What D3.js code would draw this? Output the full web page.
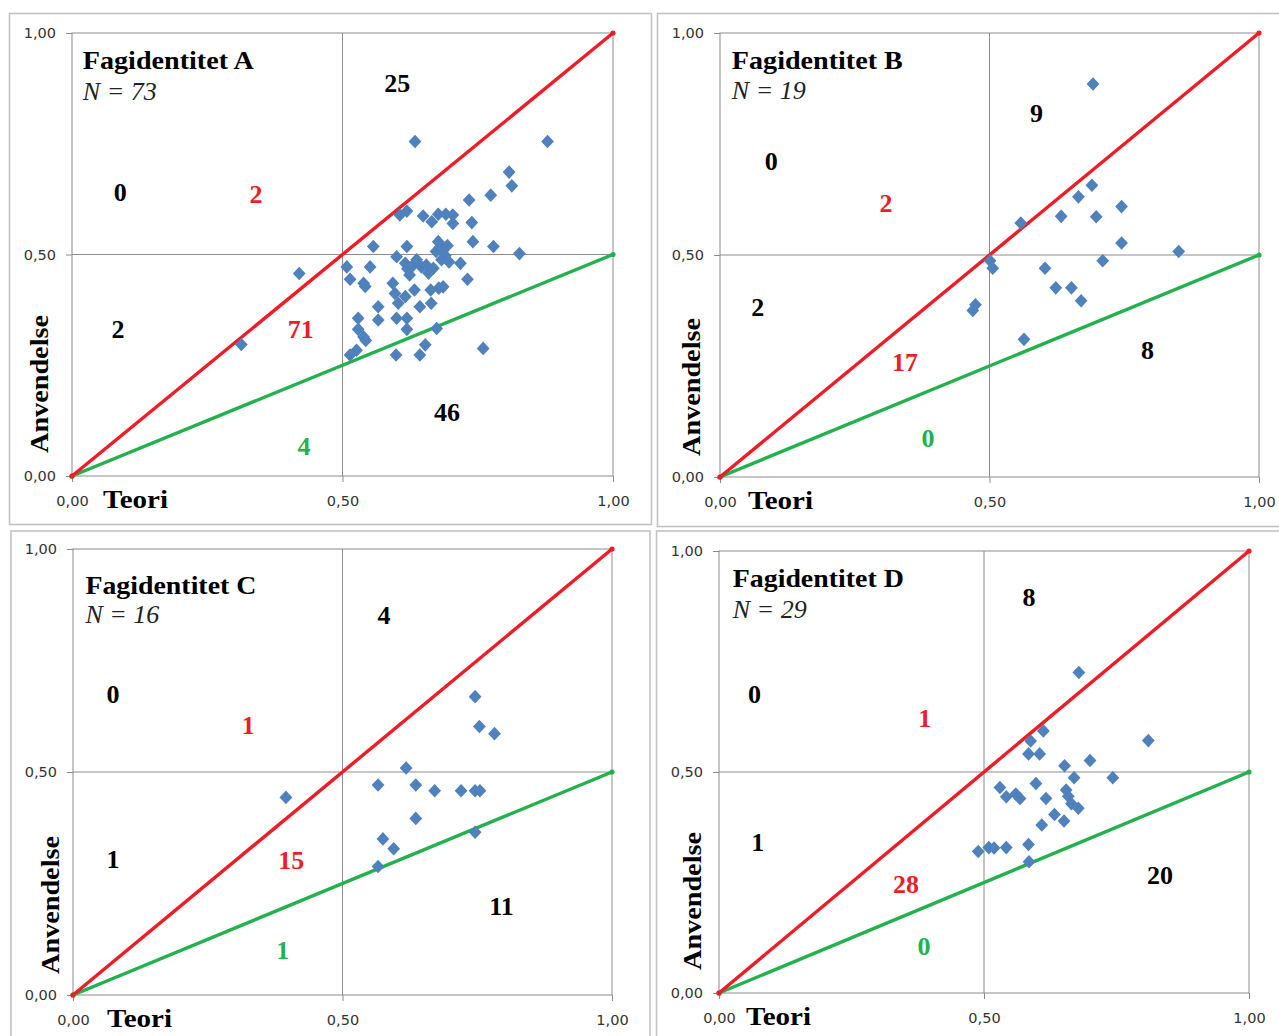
<!DOCTYPE html>
<html>
<head>
<meta charset="utf-8">
<script src="https://cdn.jsdelivr.net/npm/d3@7"></script>
<style>
  html, body { margin: 0; padding: 0; background: #fff; }
  svg { display: block; }
</style>
</head>
<body>
<svg id="chart" width="1279" height="1036"></svg>
<script>
// ---------------- DATA ----------------
const panelIds = ["A", "B", "C", "D"];
const panelTitles = ["Fagidentitet A", "Fagidentitet B", "Fagidentitet C", "Fagidentitet D"];
const panelN = ["N = 73", "N = 19", "N = 16", "N = 29"];
const xAxisTitle = "Teori";
const yAxisTitle = "Anvendelse";
const tickValues = [0, 0.5, 1];
const tickLabels = ["0,00", "0,50", "1,00"];

// Reference lines (Anvendelse = Teori, Anvendelse = Teori / 2)
const redLineX = [0, 1];
const redLineY = [0, 1];
const greenLineX = [0, 1];
const greenLineY = [0, 0.5];

// Scatter points: Teori (x) and Anvendelse (y)
const teoriA = [0.313,0.420,0.634,0.879,0.808,0.813,0.774,0.734,0.606,0.619,0.649,0.665,0.677,0.691,0.704,0.704,0.739,0.557,0.619,0.677,0.741,0.779,0.827,0.673,0.686,0.690,0.683,0.697,0.600,0.616,0.637,0.646,0.668,0.659,0.624,0.620,0.718,0.731,0.508,0.551,0.514,0.539,0.542,0.593,0.597,0.616,0.633,0.663,0.686,0.678,0.603,0.566,0.643,0.664,0.529,0.566,0.600,0.619,0.529,0.619,0.674,0.539,0.543,0.653,0.760,0.526,0.514,0.599,0.643,0.680,0.655,0.630,0.694];
const anvA  = [0.297,0.457,0.755,0.755,0.686,0.655,0.634,0.623,0.589,0.598,0.587,0.574,0.591,0.591,0.589,0.570,0.572,0.518,0.518,0.529,0.529,0.518,0.502,0.507,0.512,0.497,0.488,0.483,0.495,0.480,0.488,0.472,0.469,0.458,0.454,0.468,0.480,0.444,0.472,0.472,0.444,0.435,0.428,0.435,0.412,0.405,0.420,0.420,0.427,0.424,0.390,0.382,0.382,0.390,0.356,0.352,0.356,0.356,0.331,0.331,0.333,0.314,0.306,0.296,0.288,0.284,0.273,0.273,0.273,0.515,0.476,0.475,0.520];

const teoriB = [0.692,0.690,0.665,0.745,0.633,0.698,0.558,0.745,0.851,0.501,0.506,0.710,0.603,0.623,0.652,0.670,0.474,0.469,0.564];
const anvB  = [0.885,0.657,0.631,0.609,0.587,0.586,0.572,0.527,0.508,0.487,0.470,0.487,0.470,0.426,0.426,0.397,0.388,0.375,0.310];

const teoriC = [0.746,0.754,0.782,0.618,0.395,0.566,0.636,0.671,0.720,0.746,0.755,0.636,0.575,0.595,0.746,0.566];
const anvC  = [0.669,0.602,0.586,0.509,0.443,0.471,0.471,0.458,0.458,0.458,0.458,0.396,0.350,0.328,0.365,0.288];

const teoriD = [0.679,0.612,0.588,0.584,0.605,0.810,0.652,0.700,0.670,0.743,0.598,0.530,0.542,0.560,0.568,0.617,0.655,0.659,0.665,0.678,0.633,0.651,0.609,0.489,0.509,0.519,0.542,0.584,0.585];
const anvD  = [0.725,0.593,0.570,0.541,0.541,0.571,0.514,0.526,0.487,0.487,0.474,0.465,0.444,0.450,0.440,0.440,0.459,0.445,0.428,0.418,0.404,0.389,0.380,0.320,0.329,0.328,0.329,0.336,0.297];

// Region counts: [top-left, above red line, bottom-left, below red line, bottom-right, below green line, top-right]
const countsA = ["0", "2", "2", "71", "46", "4", "25"];
const countsB = ["0", "2", "2", "17", "8", "0", "9"];
const countsC = ["0", "1", "1", "15", "11", "1", "4"];
const countsD = ["0", "1", "1", "28", "20", "0", "8"];
const countKinds = ["q", "red", "q", "red", "q", "green", "q"];

// ---------------- LAYOUT (positions, not data) ----------------
const layout = [
  { frame: [9.5, 13.5, 651.5, 524.5], plot: [72, 613, 33, 476], ylabX: 39.6, ylabBottom: 23, xlabDx: 31,
    titlePos: [0.020, 0.919], nPos: [0.020, 0.849],
    countPos: [[0.089,0.641],[0.340,0.636],[0.085,0.332],[0.423,0.331],[0.693,0.144],[0.429,0.068],[0.601,0.887]] },
  { frame: [657.5, 13.5, 1290, 526.5], plot: [720, 1259, 33, 477], ylabX: 691, ylabBottom: 21, xlabDx: 28,
    titlePos: [0.022, 0.918], nPos: [0.022, 0.851],
    countPos: [[0.095,0.711],[0.308,0.618],[0.070,0.383],[0.343,0.259],[0.793,0.287],[0.386,0.087],[0.587,0.819]] },
  { frame: [11, 531, 650, 1050], plot: [73, 612, 549, 995], ylabX: 50.5, ylabBottom: 21, xlabDx: 34,
    titlePos: [0.023, 0.900], nPos: [0.023, 0.833],
    countPos: [[0.074,0.676],[0.325,0.605],[0.074,0.305],[0.405,0.302],[0.795,0.199],[0.389,0.102],[0.577,0.853]] },
  { frame: [656.5, 531, 1290, 1050], plot: [719, 1249, 551, 993], ylabX: 692.5, ylabBottom: 23, xlabDx: 27,
    titlePos: [0.026, 0.919], nPos: [0.026, 0.849],
    countPos: [[0.067,0.676],[0.388,0.623],[0.073,0.341],[0.353,0.246],[0.832,0.267],[0.387,0.107],[0.585,0.897]] }
];

const teoriAll = [teoriA, teoriB, teoriC, teoriD];
const anvAll = [anvA, anvB, anvC, anvD];
const countsAll = [countsA, countsB, countsC, countsD];

const colors = {
  marker: "#4F81BD",
  red: "#EE1C25",
  green: "#22B14C",
  grid: "#8c8c8c",
  frame: "#c3c3c3",
  tick: "#333333"
};
const serif = "'Liberation Serif', 'Times New Roman', serif";

const svg = d3.select("#chart");

panelIds.forEach((id, i) => {
  const L = layout[i];
  const [px0, px1, py1, py0] = L.plot;
  const x = d3.scaleLinear().domain([0, 1]).range([px0, px1]);
  const y = d3.scaleLinear().domain([0, 1]).range([py0, py1]);
  const g = svg.append("g").attr("class", "panel-" + id);

  // panel frame
  const [fx0, fy0, fx1, fy1] = L.frame;
  g.append("rect")
    .attr("x", fx0).attr("y", fy0)
    .attr("width", fx1 - fx0).attr("height", fy1 - fy0)
    .attr("fill", "#fff").attr("stroke", colors.frame).attr("stroke-width", 1.6);

  // gridlines at 0.5
  g.append("line")
    .attr("x1", x(0.5)).attr("x2", x(0.5)).attr("y1", y(0)).attr("y2", y(1))
    .attr("stroke", colors.grid).attr("stroke-width", 1);
  g.append("line")
    .attr("x1", x(0)).attr("x2", x(1)).attr("y1", y(0.5)).attr("y2", y(0.5))
    .attr("stroke", colors.grid).attr("stroke-width", 1);

  // plot border
  g.append("rect")
    .attr("x", x(0)).attr("y", y(1))
    .attr("width", x(1) - x(0)).attr("height", y(0) - y(1))
    .attr("fill", "none").attr("stroke", colors.grid).attr("stroke-width", 1);

  // axes
  const fmt = v => tickLabels[tickValues.indexOf(v)];
  const yAxis = g.append("g")
    .attr("transform", `translate(${x(0)},0)`)
    .call(d3.axisLeft(y).tickValues(tickValues).tickFormat(fmt).tickSize(6).tickPadding(10));
  const xAxis = g.append("g")
    .attr("transform", `translate(0,${y(0)})`)
    .call(d3.axisBottom(x).tickValues(tickValues).tickFormat(fmt).tickSize(6));
  [yAxis, xAxis].forEach(a => {
    a.select(".domain").remove();
    a.selectAll(".tick line").attr("stroke", colors.grid);
    a.selectAll(".tick text")
      .attr("fill", colors.tick)
      .style("font-family", "'DejaVu Sans', Verdana, sans-serif")
      .style("font-size", "14.5px");
  });
  xAxis.selectAll(".tick text").attr("y", 25).attr("dy", "0.35em");

  // reference lines
  const line = d3.line().x(d => x(d[0])).y(d => y(d[1]));
  const redPts = redLineX.map((v, k) => [v, redLineY[k]]);
  const greenPts = greenLineX.map((v, k) => [v, greenLineY[k]]);
  g.append("path").datum(greenPts).attr("d", line)
    .attr("fill", "none").attr("stroke", colors.green).attr("stroke-width", 3.4);
  g.append("path").datum(redPts).attr("d", line)
    .attr("fill", "none").attr("stroke", colors.red).attr("stroke-width", 3.4);
  g.selectAll(".gend").data(greenPts).join("circle")
    .attr("cx", d => x(d[0])).attr("cy", d => y(d[1])).attr("r", 2.6).attr("fill", colors.green);
  g.selectAll(".rend").data(redPts).join("circle")
    .attr("cx", d => x(d[0])).attr("cy", d => y(d[1])).attr("r", 2.6).attr("fill", colors.red);

  // scatter points
  const pts = teoriAll[i].map((v, k) => [v, anvAll[i][k]]);
  const diamond = "M0,-6.8L6.4,0L0,6.8L-6.4,0Z";
  g.selectAll(".pt").data(pts).join("path")
    .attr("class", "pt")
    .attr("d", diamond)
    .attr("transform", d => `translate(${x(d[0])},${y(d[1])})`)
    .attr("fill", colors.marker);

  // title and N
  g.append("text")
    .attr("x", x(L.titlePos[0])).attr("y", y(L.titlePos[1]))
    .attr("textLength", 171).attr("lengthAdjust", "spacingAndGlyphs")
    .style("font-family", serif).style("font-weight", "bold").style("font-size", "26px")
    .attr("fill", "#000").text(panelTitles[i]);
  g.append("text")
    .attr("x", x(L.nPos[0])).attr("y", y(L.nPos[1]))
    .style("font-family", serif).style("font-style", "italic").style("font-size", "26px")
    .attr("fill", "#222").text(panelN[i]);

  // region counts
  countsAll[i].forEach((c, k) => {
    const kind = countKinds[k];
    g.append("text")
      .attr("x", x(L.countPos[k][0])).attr("y", y(L.countPos[k][1]))
      .attr("dy", "0.35em")
      .attr("text-anchor", "middle")
      .style("font-family", serif)
      .style("font-weight", "bold")
      .style("font-size", "26px")
      .attr("fill", kind === "red" ? colors.red : kind === "green" ? colors.green : "#000")
      .text(c);
  });

  // axis titles
  g.append("text")
    .attr("x", x(0) + L.xlabDx).attr("y", y(0) + 32)
    .attr("textLength", 65).attr("lengthAdjust", "spacingAndGlyphs")
    .style("font-family", serif).style("font-weight", "bold").style("font-size", "26px")
    .attr("fill", "#000").text(xAxisTitle);
  g.append("text")
    .attr("transform", `translate(${L.ylabX + 8.5},${y(0) - L.ylabBottom}) rotate(-90)`)
    .attr("textLength", 138).attr("lengthAdjust", "spacingAndGlyphs")
    .style("font-family", serif).style("font-weight", "bold").style("font-size", "26px")
    .attr("fill", "#000").text(yAxisTitle);
});
</script>
</body>
</html>
